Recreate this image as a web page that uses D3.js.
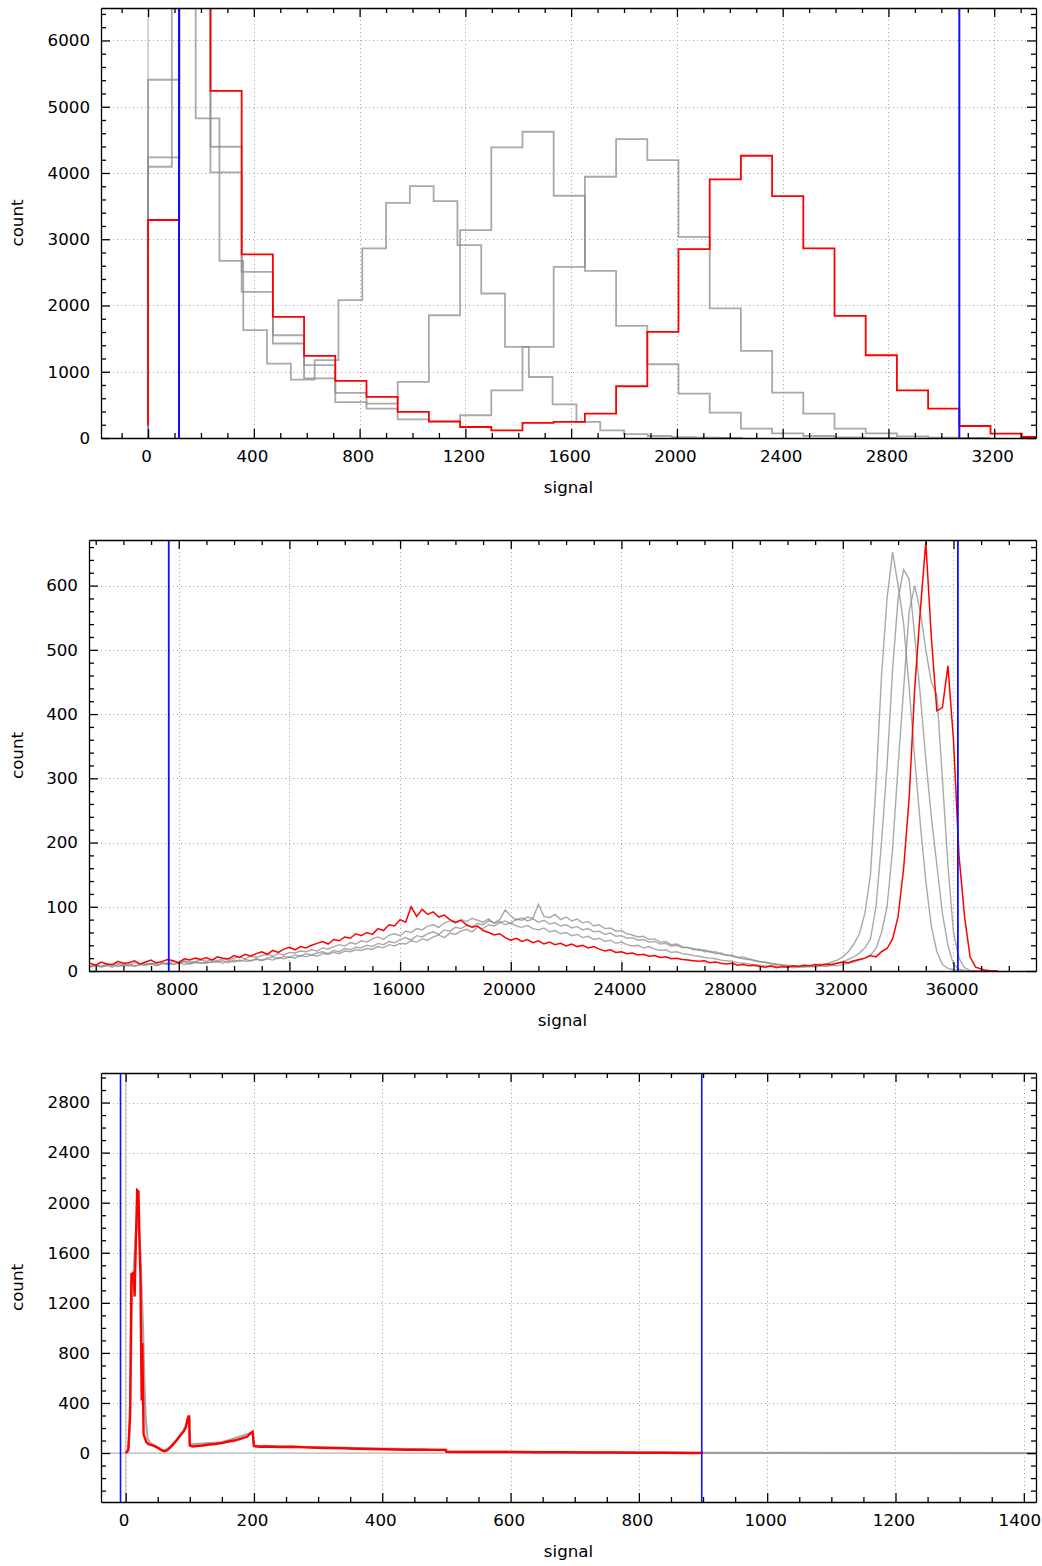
<!DOCTYPE html>
<html><head><meta charset="utf-8">
<script src="https://cdn.jsdelivr.net/npm/d3@7"></script>
<style>
body{margin:0;background:#fff}
text{font-family:"DejaVu Sans",sans-serif;font-size:16.7px;fill:#000}
</style></head>
<body><svg id="c" width="1042" height="1566"></svg>
<script>
// ---------- TOP PANEL (histograms, step curves) ----------
const topXTicks = [0,400,800,1200,1600,2000,2400,2800,3200];
const topYTicks = [0,1000,2000,3000,4000,5000,6000];
const topMarkers = [117, 3068];
const topRedBinWidth = 118, topRedStart = 190;
const topRedCounts = [3290,6490,5240,2770,1828,1239,861,620,393,250,166,116,227,242,368,781,1601,2850,3904,4260,3651,2861,1843,1249,720,444,181,66,15];
const topGrayABinWidth = 90;
const topGrayACounts = [4094,6490,4825,2674,1627,1124,882,1174,2080,2861,3550,3802,3575,2911,2181,1375,921,509,242,116,60,30,12,5,0];
const topGrayBBinWidth = 118;
const topGrayBCounts = [4236,6490,4009,2206,1426,1100,680,520,846,1853,3137,4387,4622,3656,2523,1692,1113,670,384,141,70,30,10,0];
const topGrayCBinWidth = 118;
const topGrayCCounts = [5407,6490,4396,2508,1551,900,540,444,280,242,343,720,1375,2583,3943,4512,4195,3037,1955,1314,686,369,141,70,25,5,0];

// ---------- MIDDLE PANEL ----------
const midXTicks = [8000,12000,16000,20000,24000,28000,32000,36000];
const midYTicks = [0,100,200,300,400,500,600];
const midMarkers = [7640, 36160];
const midStart = 4800, midStep = 200;
const midRed = [
12,9,14,11,10,15,12,13,16,11,
14,17,12,15,18,16,13,19,17,20,
18,21,17,22,20,19,24,21,26,23,
27,30,26,32,29,34,37,33,38,36,
40,43,46,42,49,47,53,51,58,55,
60,57,66,63,72,70,80,76,100,85,
96,88,92,84,87,80,76,79,72,68,
70,63,60,56,58,52,48,51,46,49,
44,47,42,45,41,43,39,42,38,40,
36,38,34,31,33,29,30,27,28,25,
26,23,24,21,22,19,20,18,17,16,
15,16,13,14,12,11,12,9,10,8,
9,7,6,8,5,7,6,8,7,9,
8,10,9,11,10,12,14,13,16,18,
20,24,22,30,35,50,85,160,270,440,
560,668,520,405,410,475,360,180,85,22,
6,3,1,0,0];
const midGrayA = [
8,10,7,11,9,12,10,8,13,11,
12,10,14,13,11,15,13,16,14,15,
17,15,18,16,19,17,20,22,19,23,
21,24,26,23,27,25,29,28,31,30,
33,31,36,34,38,41,39,44,42,47,
45,50,53,49,56,58,55,62,60,66,
64,70,72,68,75,78,74,80,77,82,
79,76,81,74,77,72,75,70,68,71,
66,64,67,61,63,58,60,55,57,52,
54,49,51,46,48,43,45,41,39,40,
36,38,34,32,33,29,30,27,26,24,
23,21,20,19,17,16,15,13,12,11,
10,9,8,7,8,6,7,5,6,7,
8,9,11,10,14,17,22,30,42,58,
90,150,290,460,580,652,600,540,440,330,
230,140,70,30,10,4,2,1,0,0,
0,0,0,0,0];
const midGrayB = [
6,8,7,9,6,10,8,9,7,10,
9,11,8,12,10,11,13,10,12,14,
13,12,15,14,16,13,17,15,18,16,
19,17,20,22,19,23,21,25,23,27,
25,28,30,27,32,30,35,33,37,36,
40,38,43,41,46,44,49,52,48,55,
53,58,61,57,64,62,68,66,71,69,
74,72,78,75,80,95,86,79,83,78,
81,76,79,73,75,70,72,67,69,64,
66,61,62,57,59,54,55,51,52,48,
49,45,46,42,43,39,40,36,37,33,
34,30,31,27,28,24,25,21,22,19,
17,15,14,12,11,10,9,8,8,7,
8,7,9,8,10,12,14,18,22,28,
36,50,100,200,320,470,580,625,610,520,
430,330,240,165,90,40,10,3,1,0,
0,0,0,0,0];
const midGrayC = [
7,9,6,8,10,7,9,11,8,10,
10,12,9,11,13,10,12,14,11,13,
12,14,13,15,12,16,14,17,15,16,
18,16,19,17,21,19,22,20,24,22,
25,23,27,26,29,27,31,30,33,32,
35,34,38,36,41,39,43,42,47,45,
50,48,53,56,52,59,57,62,65,61,
68,66,72,70,75,78,74,81,79,84,
82,104,85,83,88,80,84,78,81,75,
77,70,72,66,67,62,63,58,56,53,
54,49,50,45,46,41,42,38,36,35,
32,33,29,30,26,25,23,21,19,18,
16,14,13,11,10,9,8,7,7,6,
7,6,8,7,9,8,10,12,14,17,
20,25,35,60,100,190,320,440,560,600,
560,500,450,430,300,165,60,20,5,1,
0,0,0,0,0];

// ---------- BOTTOM PANEL ----------
const botXTicks = [0,200,400,600,800,1000,1200,1400];
const botYTicks = [0,400,800,1200,1600,2000,2400,2800];
const botMarkers = [-8, 898];
const botRedX = [0,4,7,9,12,14,16,18,20,22,23,24,25,26,27,28,32,36,40,45,50,55,60,65,70,75,80,85,90,94,97,99,100,104,110,120,130,140,150,160,170,180,190,195,198,200,210,220,240,260,280,300,320,340,360,380,400,420,440,460,480,499,500,520,560,600,640,680,720,760,800,840,880,900];
const botRedY = [0,20,300,1430,1440,1250,1700,2100,2090,1600,1450,900,420,880,500,150,90,70,65,55,42,25,15,22,48,75,105,140,170,205,280,300,60,52,55,60,68,72,80,92,100,115,132,160,170,55,50,52,48,50,45,42,40,38,34,32,30,28,26,27,25,24,10,9,8,8,7,6,5,4,3,2,1,0];
const botGrayX = [0,5,8,10,13,16,19,22,25,27,29,31,34,38,45,55,60,70,80,90,97,99,100,150,198,200,300,500,501,900,1419];
const botGrayY = [0,40,600,1300,1500,1750,1900,1700,1300,1000,600,300,120,80,60,30,18,50,110,175,270,280,70,85,165,60,45,25,12,1,0];

// ---------- drawing ----------
const svg = d3.select('#c');
const GRAY = 'rgba(140,140,140,0.75)';
const RED = '#ff0000';
const BLUE = '#1010ff';

function minors(domain, step, majors){
  const out=[]; const s=Math.ceil(domain[0]/step), e=Math.floor(domain[1]/step);
  for(let k=s;k<=e;k++){const v=k*step; if(!majors.includes(v)) out.push(v);}
  return out;
}
function stepPts(counts, width, start){
  const pts=[[0,start]];
  counts.forEach((c,i)=>pts.push([i*width,c]));
  pts.push([counts.length*width, counts[counts.length-1]]);
  return pts;
}

function panel(p){
  const x=d3.scaleLinear().domain(p.xDomain).range([p.l,p.r]);
  const y=d3.scaleLinear().domain(p.yDomain).range([p.b,p.t]);
  const cid='clip_'+p.name;
  svg.append('clipPath').attr('id',cid).append('rect')
    .attr('x',p.l).attr('y',p.t).attr('width',p.r-p.l).attr('height',p.b-p.t);
  const g=svg.append('g');
  const inner=g.append('g').attr('clip-path',`url(#${cid})`);
  // grid
  inner.selectAll('line.gx').data(p.xTicks).join('line').attr('class','gx')
    .attr('x1',d=>Math.round(x(d))+0.5).attr('x2',d=>Math.round(x(d))+0.5).attr('y1',p.t).attr('y2',p.b)
    .attr('stroke','#a8a8a8').attr('stroke-width',1).attr('stroke-dasharray','1,3');
  inner.selectAll('line.gy').data(p.yTicks).join('line').attr('class','gy')
    .attr('y1',d=>Math.round(y(d))+0.5).attr('y2',d=>Math.round(y(d))+0.5).attr('x1',p.l).attr('x2',p.r)
    .attr('stroke','#a8a8a8').attr('stroke-width',1).attr('stroke-dasharray','1,3');
  // zero lines
  if(p.zeroX){ inner.append('line').attr('x1',x(0)).attr('x2',x(0)).attr('y1',p.t).attr('y2',p.b)
    .attr('stroke','#c8c8c8').attr('stroke-width',1.5); }
  if(p.zeroY){ inner.append('line').attr('y1',y(0)).attr('y2',y(0)).attr('x1',p.l).attr('x2',p.r)
    .attr('stroke','#c8c8c8').attr('stroke-width',1.8); }
  // data
  p.data(inner,x,y);
  // markers
  inner.selectAll('line.mk').data(p.markers).join('line').attr('class','mk')
    .attr('x1',d=>x(d)).attr('x2',d=>x(d)).attr('y1',p.t).attr('y2',p.b)
    .attr('stroke',BLUE).attr('stroke-width',p.markerW);
  // axes
  const mx=minors(p.xDomain,p.xMinor,p.xTicks), my=minors(p.yDomain,p.yMinor,p.yTicks);
  const fmt=d3.format('d');
  const style=sel=>{sel.selectAll('line').attr('stroke-width',1.3); sel.select('.domain').attr('stroke-width',1.3);};
  g.append('g').attr('transform',`translate(0,${p.b})`)
    .call(d3.axisBottom(x).tickValues(p.xTicks).tickSize(-9).tickSizeOuter(0).tickPadding(12).tickFormat(fmt)).call(style)
    .call(s=>s.selectAll('text').attr('dx',-2).each(function(){
      const bb=this.getBBox(); const tr=this.parentNode.transform.baseVal.consolidate();
      const right=(tr?tr.matrix.e:0)+bb.x+bb.width-2;
      if(right>1039) d3.select(this).attr('dx',-2-(right-1039));
    }));
  g.append('g').attr('transform',`translate(0,${p.b})`)
    .call(d3.axisBottom(x).tickValues(mx).tickSize(-5).tickFormat('')).call(s=>s.select('.domain').remove()).call(style);
  g.append('g').attr('transform',`translate(0,${p.t})`)
    .call(d3.axisTop(x).tickValues(p.xTicks).tickSize(-9).tickSizeOuter(0).tickFormat('')).call(style);
  g.append('g').attr('transform',`translate(0,${p.t})`)
    .call(d3.axisTop(x).tickValues(mx).tickSize(-5).tickFormat('')).call(s=>s.select('.domain').remove()).call(style);
  g.append('g').attr('transform',`translate(${p.l},0)`)
    .call(d3.axisLeft(y).tickValues(p.yTicks).tickSize(-9).tickSizeOuter(0).tickPadding(11).tickFormat(fmt)).call(style);
  g.append('g').attr('transform',`translate(${p.l},0)`)
    .call(d3.axisLeft(y).tickValues(my).tickSize(-5).tickFormat('')).call(s=>s.select('.domain').remove()).call(style);
  g.append('g').attr('transform',`translate(${p.r},0)`)
    .call(d3.axisRight(y).tickValues(p.yTicks).tickSize(-9).tickSizeOuter(0).tickFormat('')).call(style);
  g.append('g').attr('transform',`translate(${p.r},0)`)
    .call(d3.axisRight(y).tickValues(my).tickSize(-5).tickFormat('')).call(s=>s.select('.domain').remove()).call(style);
  // labels
  g.append('text').attr('x',(p.l+p.r)/2).attr('y',p.b+49).attr('dy','0.35em').attr('text-anchor','middle').text('signal');
  g.append('text').attr('transform',`translate(17,${(p.t+p.b)/2}) rotate(-90)`).attr('dy','0.35em')
    .attr('text-anchor','middle').text('count');
}

// top
panel({name:'top', l:101, r:1036, t:8, b:438, xDomain:[-178,3358], yDomain:[0,6490],
  xTicks:topXTicks, yTicks:topYTicks, xMinor:100, yMinor:200, markers:topMarkers, markerW:2,
  zeroX:true, zeroY:false,
  data:(g,x,y)=>{
    const line=d3.line().x(d=>x(d[0])).y(d=>y(d[1])).curve(d3.curveStepAfter);
    [[topGrayACounts,topGrayABinWidth],[topGrayBCounts,topGrayBBinWidth],[topGrayCCounts,topGrayCBinWidth]].forEach(([c,w])=>{
      g.append('path').attr('d',line(stepPts(c,w,0))).attr('fill','none').attr('stroke',GRAY).attr('stroke-width',1.8);
    });
    g.append('path').attr('d',line(stepPts(topRedCounts,topRedBinWidth,topRedStart))).attr('fill','none')
      .attr('stroke',RED).attr('stroke-width',1.8);
  }});

// middle
panel({name:'mid', l:89, r:1036, t:540, b:971, xDomain:[4757,38983], yDomain:[0,671],
  xTicks:midXTicks, yTicks:midYTicks, xMinor:1000, yMinor:20, markers:midMarkers, markerW:1.8,
  zeroX:false, zeroY:false,
  data:(g,x,y)=>{
    const line=d3.line().x((d,i)=>x(midStart+i*midStep)).y(d=>y(d));
    [midGrayA,midGrayB,midGrayC].forEach(s=>{
      g.append('path').attr('d',line(s)).attr('fill','none').attr('stroke',GRAY).attr('stroke-width',1.4);
    });
    g.append('path').attr('d',line(midRed)).attr('fill','none').attr('stroke',RED).attr('stroke-width',1.5);
  }});

// bottom
panel({name:'bot', l:101, r:1036, t:1073, b:1502, xDomain:[-38.4,1419], yDomain:[-391,3036],
  xTicks:botXTicks, yTicks:botYTicks, xMinor:50, yMinor:100, markers:botMarkers, markerW:1.6,
  zeroX:true, zeroY:true,
  data:(g,x,y)=>{
    const line=d3.line().x(d=>x(d[0])).y(d=>y(d[1]));
    g.append('path').attr('d',line(botGrayX.map((v,i)=>[v,botGrayY[i]]))).attr('fill','none')
      .attr('stroke',GRAY).attr('stroke-width',2.2);
    g.append('path').attr('d',line(botRedX.map((v,i)=>[v,botRedY[i]]))).attr('fill','none')
      .attr('stroke',RED).attr('stroke-width',2.4);
  }});
</script>
</body></html>
